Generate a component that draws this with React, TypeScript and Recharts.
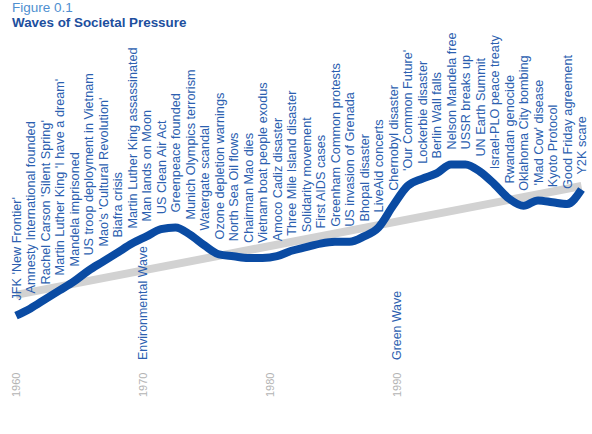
import React from 'react';
import { LineChart, Line, XAxis, YAxis, LabelList } from 'recharts';

// events in the order they sit along the wave
const events = [
  "JFK 'New Frontier'",
  'Amnesty International founded',
  "Rachel Carson 'Silent Spring'",
  "Martin Luther King 'I have a dream'",
  'Mandela imprisoned',
  'US troop deployment in Vietnam',
  "Mao's 'Cultural Revolution'",
  'Biafra crisis',
  'Martin Luther King assassinated',
  'Man lands on Moon',
  'US Clean Air Act',
  'Greenpeace founded',
  'Munich Olympics terrorism',
  'Watergate scandal',
  'Ozone depletion warnings',
  'North Sea Oil flows',
  'Chairman Mao dies',
  'Vietnam boat people exodus',
  'Amoco Cadiz disaster',
  'Three Mile Island disaster',
  'Solidarity movement',
  'First AIDS cases',
  'Greenham Common protests',
  'US invasion of Grenada',
  'Bhopal disaster',
  'LiveAid concerts',
  'Chernobyl disaster',
  "'Our Common Future'",
  'Lockerbie disaster',
  'Berlin Wall falls',
  'Nelson Mandela free',
  'USSR breaks up',
  'UN Earth Summit',
  'Israel-PLO peace treaty',
  'Rwandan genocide',
  'Oklahoma City bombing',
  "'Mad Cow' disease",
  'Kyoto Protocol',
  'Good Friday agreement',
  'Y2K scare',
];

// societal pressure
const pressure = [
  8, 12, 17, 22, 27, 33, 38, 43, 48, 52,
  56, 57, 53, 47, 42, 41, 40, 40, 41, 44,
  46, 48, 49, 49, 52, 57, 69, 80, 84, 87,
  92, 92, 88, 81, 73, 69, 72, 71, 70, 78,
];

// grey underlying trend: start and end only
const trendEnds = [19.5, 80];

// year ticks sit at these positions along the event axis
const yearTicks = [
  { at: 0, year: '1960' },
  { at: 8.75, year: '1970' },
  { at: 17.5, year: '1980' },
  { at: 26.25, year: '1990' },
];

const waves = [
  { at: 8.75, name: 'Environmental Wave' },
  { at: 26.25, name: 'Green Wave' },
];

const data = events.map((name, i) => ({
  idx: i,
  name,
  pressure: pressure[i],
  trend: i === 0 ? trendEnds[0] : i === events.length - 1 ? trendEnds[1] : null,
}));

const LABEL_BLUE = '#2c5fb0';

const EventLabel = (props: any) => {
  const { x, y, value } = props;
  return (
    <text
      transform={`translate(${x + 4.5}, ${y - 15}) rotate(-90)`}
      textAnchor="start"
      fontSize={12.7}
      fill={LABEL_BLUE}
    >
      {value}
    </text>
  );
};

const YearTick = (props: any) => {
  const { x, y, payload } = props;
  const tick = yearTicks.find((t) => t.at === payload.value);
  const wave = waves.find((w) => w.at === payload.value);
  return (
    <g>
      <text
        transform={`translate(${x + 4}, ${y + 59}) rotate(-90)`}
        textAnchor="start"
        fontSize={11}
        fill="#b4b4b4"
      >
        {tick ? tick.year : ''}
      </text>
      {wave && (
        <text
          transform={`translate(${x + 4.5}, ${y + 22}) rotate(-90)`}
          textAnchor="start"
          fontSize={12.4}
          fill={LABEL_BLUE}
        >
          {wave.name}
        </text>
      )}
    </g>
  );
};

export default function App() {
  return (
    <div
      style={{
        position: 'absolute',
        left: 0,
        top: 0,
        width: 592,
        height: 434,
        background: '#fff',
        fontFamily: '"Liberation Sans", Arial, sans-serif',
      }}
    >
      <div style={{ position: 'absolute', left: 12, top: 1, fontSize: 13.5, color: '#4f8fd0', lineHeight: '13px' }}>
        Figure 0.1
      </div>
      <div
        style={{
          position: 'absolute',
          left: 12,
          top: 16,
          fontSize: 13.4,
          fontWeight: 'bold',
          color: '#1d4f9e',
          lineHeight: '13px',
        }}
      >
        Waves of Societal Pressure
      </div>
      <LineChart
        width={592}
        height={434}
        data={data}
        margin={{ top: 150, right: 10.5, bottom: 44, left: 16 }}
        style={{ fontFamily: '"Liberation Sans", Arial, sans-serif' }}
      >
        <XAxis
          type="number"
          dataKey="idx"
          domain={[0, events.length - 1]}
          ticks={yearTicks.map((t) => t.at)}
          tick={<YearTick />}
          axisLine={false}
          tickLine={false}
          height={60}
          interval={0}
        />
        <YAxis hide domain={[0, 100]} />
        <Line
          dataKey="trend"
          stroke="#d2d2d2"
          strokeWidth={8}
          dot={false}
          connectNulls
          isAnimationActive={false}
        />
        <Line
          type="monotone"
          dataKey="pressure"
          stroke="#0a4ba3"
          strokeWidth={8}
          dot={false}
          isAnimationActive={false}
        >
          <LabelList dataKey="name" content={<EventLabel />} />
        </Line>
      </LineChart>
    </div>
  );
}
